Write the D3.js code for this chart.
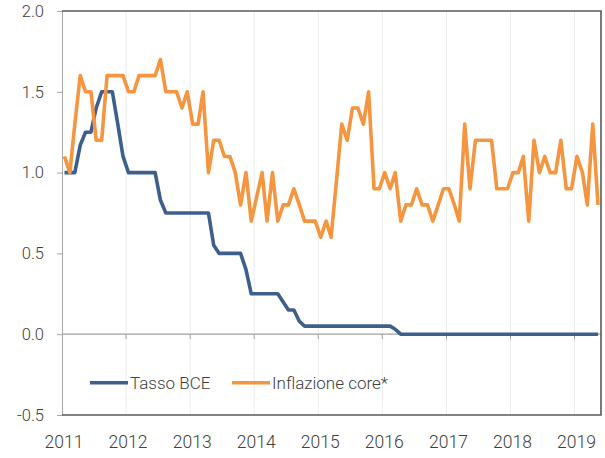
<!DOCTYPE html>
<html>
<head>
<meta charset="utf-8">
<script src="https://cdn.jsdelivr.net/npm/d3@7"></script>
<style>
    body { margin: 0; background: #fff; }
    text { font-family: Roboto, "Noto Sans", sans-serif; fill: #404040; font-weight: 300; }
</style>
</head>
<body>
<div id="chart"></div>
<script>

// monthly series, Jan 2011 .. May 2019
var seriesNames = ["Tasso BCE", "Inflazione core*"];
var yTicks = [-0.5, 0.0, 0.5, 1.0, 1.5, 2.0];
var yearLabels = [2011, 2012, 2013, 2014, 2015, 2016, 2017, 2018, 2019];

var tassoBCE = [
    1.0, 1.0, 1.0, 1.17, 1.25, 1.25, 1.4, 1.5, 1.5, 1.5, 1.3, 1.1,
    1.0, 1.0, 1.0, 1.0, 1.0, 1.0, 0.83, 0.75, 0.75, 0.75, 0.75, 0.75,
    0.75, 0.75, 0.75, 0.75, 0.55, 0.5, 0.5, 0.5, 0.5, 0.5, 0.4, 0.25,
    0.25, 0.25, 0.25, 0.25, 0.25, 0.2, 0.15, 0.15, 0.08, 0.05, 0.05, 0.05,
    0.05, 0.05, 0.05, 0.05, 0.05, 0.05, 0.05, 0.05, 0.05, 0.05, 0.05, 0.05,
    0.05, 0.05, 0.03, 0, 0, 0, 0, 0, 0, 0, 0, 0,
    0, 0, 0, 0, 0, 0, 0, 0, 0, 0, 0, 0,
    0, 0, 0, 0, 0, 0, 0, 0, 0, 0, 0, 0,
    0, 0, 0, 0, 0
];

var inflazioneCore = [
    1.1, 1.0, 1.3, 1.6, 1.5, 1.5, 1.2, 1.2, 1.6, 1.6, 1.6, 1.6,
    1.5, 1.5, 1.6, 1.6, 1.6, 1.6, 1.7, 1.5, 1.5, 1.5, 1.4, 1.5,
    1.3, 1.3, 1.5, 1.0, 1.2, 1.2, 1.1, 1.1, 1.0, 0.8, 1.0, 0.7,
    0.85, 1.0, 0.7, 1.0, 0.7, 0.8, 0.8, 0.9, 0.8, 0.7, 0.7, 0.7,
    0.6, 0.7, 0.6, 0.95, 1.3, 1.2, 1.4, 1.4, 1.3, 1.5, 0.9, 0.9,
    1.0, 0.9, 1.0, 0.7, 0.8, 0.8, 0.9, 0.8, 0.8, 0.7, 0.8, 0.9,
    0.9, 0.8, 0.7, 1.3, 0.9, 1.2, 1.2, 1.2, 1.2, 0.9, 0.9, 0.9,
    1.0, 1.0, 1.1, 0.7, 1.2, 1.0, 1.1, 1.0, 1.0, 1.2, 0.9, 0.9,
    1.1, 1.0, 0.8, 1.3, 0.8
];

var colors = ["#3e5f8e", "#f6953f"];

var svgW = 605;
var svgH = 458;

var margin = {
    left: 62,
    right: 4,
    top: 11,
    bottom: 43
}

var chartW = svgW - margin.left - margin.right;
var chartH = svgH - margin.top - margin.bottom;

var svg = d3.select("#chart")
    .append("svg")
    .attr("width", svgW)
    .attr("height", svgH);

var g = svg.append("g")
    .attr("transform", `translate(${margin.left}, ${margin.top})`);

var months = d3.timeMonth.range(new Date(2011, 0, 1), new Date(2019, 5, 1));

var xScale = d3.scaleTime()
    .domain([new Date(2011, 0, 1), new Date(2019, 5, 1)])
    .range([0, chartW]);

var yScale = d3.scaleLinear()
    .domain([-0.5, 2.0])
    .range([chartH, 0]);

var yearDates = yearLabels.map(y => new Date(y, 0, 1));

// vertical gridlines
g.selectAll(".vgrid")
    .data(yearDates.slice(1))
    .enter()
    .append("line")
    .attr("class", "vgrid")
    .attr("x1", d => xScale(d))
    .attr("x2", d => xScale(d))
    .attr("y1", 0)
    .attr("y2", chartH)
    .attr("stroke", "#ececec")
    .attr("stroke-width", 1);

// zero line with year ticks
g.append("line")
    .attr("x1", 0)
    .attr("x2", chartW)
    .attr("y1", yScale(0))
    .attr("y2", yScale(0))
    .attr("stroke", "#a0a0a0")
    .attr("stroke-width", 1.2);

g.selectAll(".xtick")
    .data(yearDates.slice(1))
    .enter()
    .append("line")
    .attr("x1", d => xScale(d))
    .attr("x2", d => xScale(d))
    .attr("y1", yScale(0))
    .attr("y2", yScale(0) + 5)
    .attr("stroke", "#a0a0a0");

// left axis
var leftAxis = d3.axisLeft(yScale)
    .tickValues(yTicks)
    .tickFormat(d => d.toFixed(1))
    .tickSizeInner(5)
    .tickSizeOuter(0)
    .tickPadding(13);

var yAxisG = g.append("g").attr("id", "y-axis").call(leftAxis);
yAxisG.select(".domain").attr("stroke", "#a6a6a6");
yAxisG.selectAll(".tick line").attr("stroke", "#a6a6a6");
yAxisG.selectAll("text")
    .attr("font-size", "16.5px")
    .attr("fill", "#404040")
    .style("font-family", "Roboto, sans-serif")
    .style("font-weight", 300);

// frame: top, right, bottom
g.append("path")
    .attr("d", `M0,0H${chartW}V${chartH}H0`)
    .attr("fill", "none")
    .attr("stroke", "#595959")
    .attr("stroke-width", 1.6);

// year labels
g.selectAll(".xlabel")
    .data(yearDates)
    .enter()
    .append("text")
    .attr("class", "xlabel")
    .attr("x", d => xScale(d) + 2)
    .attr("y", chartH + 33)
    .attr("text-anchor", "middle")
    .attr("font-size", "17.5px")
    .text((d, i) => yearLabels[i]);

// lines
var line = d3.line()
    .x(d => xScale(d3.timeDay.offset(d.date, 14)))
    .y(d => yScale(d.value));

[tassoBCE, inflazioneCore].forEach((vals, k) => {
    var data = vals.map((v, i) => ({ date: months[i], value: v }));
    g.append("path")
        .datum(data)
        .attr("d", line)
        .attr("fill", "none")
        .attr("stroke", colors[k])
        .attr("stroke-width", 3.6)
        .attr("stroke-linejoin", "round");
});

// legend
var legendX = [28, 170];
var legendY = yScale(-0.3);

seriesNames.forEach((name, k) => {
    g.append("line")
        .attr("x1", legendX[k])
        .attr("x2", legendX[k] + 38)
        .attr("y1", legendY)
        .attr("y2", legendY)
        .attr("stroke", colors[k])
        .attr("stroke-width", 3.6);
    g.append("text")
        .attr("x", legendX[k] + 40)
        .attr("y", legendY + 6)
        .attr("font-size", "17px")
        .text(name);
});

</script>
</body>
</html>
